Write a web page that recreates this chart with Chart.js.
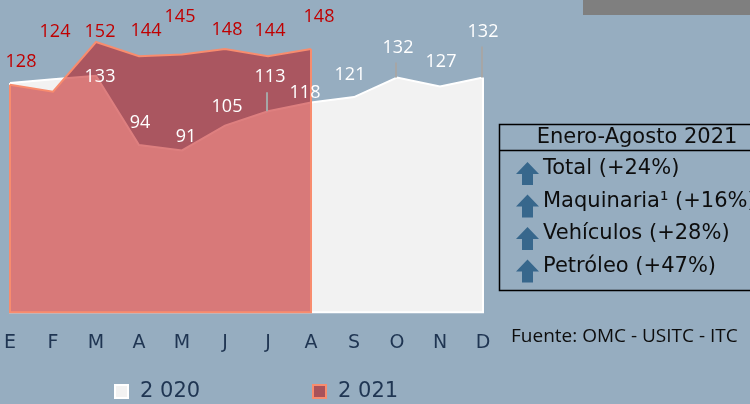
<!DOCTYPE html>
<html><head><meta charset="utf-8">
<style>html,body{margin:0;padding:0;background:#96ADC0;} #wrap{width:750px;height:404px;position:relative;}</style>
<script src="https://cdn.jsdelivr.net/npm/chart.js@4.4.1/dist/chart.umd.min.js"></script>
</head><body><div id="wrap"><canvas id="c" width="750" height="404"></canvas></div>
<script>
// ---- data ----
const months = ['E','F','M','A','M','J','J','A','S','O','N','D'];
const values2020 = [129,131,133,94,91,105,113,118,121,132,127,132];
const values2021 = [128,124,152,144,145,148,144,148,null,null,null,null];
const seriesNames = ['2 020','2 021'];
const show2020 = [false,false,true,true,true,true,true,true,true,true,true,true];
const boxTitle = 'Enero-Agosto 2021';
const boxItems = ['Total (+24%)','Maquinaria\u00B9 (+16%)','Veh\u00EDculos (+28%)','Petr\u00F3leo (+47%)'];
const sourceText = 'Fuente: OMC - USITC - ITC';

// ---- label placement (pixel offsets from the point, as in the original) ----
const offs2021 = [[11,-23],[2,-60],[4,-10],[7,-25],[-2,-38],[2,-19],[2,-25],[8,-32]];
const offs2020 = [null,null,[4,1],[1,-22],[4,-14],[2,-19],[2,-34],[-6,-10],[-4,-22],[1,-30],[1,-25],[0,-46]];
const leader2020 = [0,0,0,0,0,0,1,0,0,1,0,1];

const INK = '#1F3552';

const outlinePlugin = {
  id:'outline',
  afterDatasetDraw(chart, args){
    const meta = chart.getDatasetMeta(args.index);
    const ds = chart.data.datasets[args.index];
    const yb = chart.scales.y.getPixelForValue(0);
    const pts = meta.data.filter((p,i)=>ds.data[i]!==null);
    if(!pts.length) return;
    const ctx = chart.ctx;
    ctx.save();
    ctx.strokeStyle = ds.borderColor; ctx.lineWidth = 2; ctx.lineJoin='miter';
    ctx.beginPath();
    ctx.moveTo(pts[0].x, pts[0].y);
    ctx.lineTo(pts[0].x, yb);
    ctx.lineTo(pts[pts.length-1].x, yb);
    ctx.lineTo(pts[pts.length-1].x, pts[pts.length-1].y);
    ctx.stroke();
    ctx.restore();
  }
};

const decoPlugin = {
  id:'deco',
  afterDraw(chart){
    const ctx = chart.ctx;
    ctx.save();
    ctx.fillStyle = '#7F7F7F';
    ctx.fillRect(583,0,167,15);
    ctx.textAlign='center'; ctx.textBaseline='middle';
    ctx.font = '18px "Open Sans"';
    const m0 = chart.getDatasetMeta(0), m1 = chart.getDatasetMeta(1);
    m0.data.forEach((p,i)=>{
      if(!show2020[i]) return;
      const o = offs2020[i];
      const lx = p.x+o[0], ly = p.y+o[1];
      if(leader2020[i]){
        ctx.strokeStyle='#A6A6A6'; ctx.lineWidth=2;
        ctx.beginPath(); ctx.moveTo(p.x-1, ly+15); ctx.lineTo(p.x-1, p.y); ctx.stroke();
      }
      ctx.fillStyle='#FFFFFF';
      ctx.fillText(String(values2020[i]), lx, ly);
    });
    m1.data.forEach((p,i)=>{
      if(values2021[i]===null) return;
      const o = offs2021[i];
      ctx.fillStyle='#C00000';
      ctx.fillText(String(values2021[i]), p.x+o[0], p.y+o[1]);
    });
    ctx.strokeStyle='#000'; ctx.lineWidth=1.5;
    ctx.strokeRect(499.5,124.5,270,166);
    ctx.beginPath(); ctx.moveTo(499.5,150.5); ctx.lineTo(760,150.5); ctx.stroke();
    ctx.fillStyle='#0D0D0D';
    ctx.font='21px "DejaVu Sans"';
    ctx.textAlign='center';
    ctx.fillText(boxTitle, 637, 138);
    ctx.textAlign='left';
    boxItems.forEach((t,i)=>{
      const cy = 168 + i*32.5;
      ctx.fillStyle='#37678C';
      ctx.beginPath();
      ctx.moveTo(527.5, cy-6);
      ctx.lineTo(539, cy+6);
      ctx.lineTo(533, cy+6);
      ctx.lineTo(533, cy+17);
      ctx.lineTo(522, cy+17);
      ctx.lineTo(522, cy+6);
      ctx.lineTo(516, cy+6);
      ctx.closePath(); ctx.fill();
      ctx.fillStyle='#0D0D0D';
      ctx.fillText(t, 543, cy+1);
    });
    ctx.font='19px "Open Sans"';
    ctx.fillStyle='#0D0D0D';
    ctx.fillText(sourceText, 511, 337);
    const ds = chart.data.datasets;
    const lx = [115, 313];
    ds.forEach((d,i)=>{
      ctx.fillStyle = i===0 ? d.backgroundColor : '#A9525A';
      ctx.fillRect(lx[i],385,13,13);
      ctx.strokeStyle = d.borderColor; ctx.lineWidth=2;
      ctx.strokeRect(lx[i],385,13,13);
      ctx.fillStyle = INK;
      ctx.font='21px "DejaVu Sans"';
      ctx.fillText(d.label, lx[i]+25, 392);
    });
    ctx.restore();
  }
};

new Chart(document.getElementById('c'), {
  type:'line',
  data:{
    labels: months,
    datasets:[
      {label: seriesNames[0], data: values2020, fill:'origin', backgroundColor:'#F2F2F2', borderColor:'#FFFFFF', borderWidth:2, pointRadius:0, tension:0, order:2},
      {label: seriesNames[1], data: values2021, fill:'origin', backgroundColor:'rgba(190,0,0,0.5)', borderColor:'#F88C6E', borderWidth:2, pointRadius:0, tension:0, order:1}
    ]
  },
  options:{
    responsive:false, animation:false, devicePixelRatio:1,
    layout:{padding:{left:10,right:267,top:10,bottom:31}},
    plugins:{legend:{display:false}, tooltip:{enabled:false}},
    scales:{
      x:{type:'category', offset:false, grid:{display:false, drawTicks:false}, border:{display:false},
         afterFit(s){ s.paddingLeft=0; s.paddingRight=0; },
         ticks:{color:INK, font:{family:'DejaVu Sans', size:19}, padding:19, maxRotation:0, autoSkip:false}},
      y:{display:false, min:0, max:170}
    }
  },
  plugins:[outlinePlugin, decoPlugin]
});
</script></body></html>
